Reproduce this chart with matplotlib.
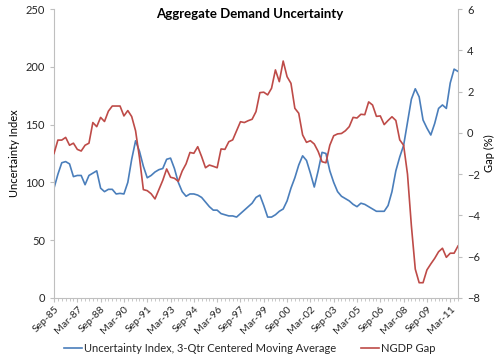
import matplotlib
matplotlib.use("Agg")
import matplotlib.pyplot as plt
from matplotlib.ticker import MultipleLocator, FixedLocator
import numpy as np

# Quarterly categories Sep-85 .. Sep-11 (105 quarters)
tick_labels = ["Sep-85", "Mar-87", "Sep-88", "Mar-90", "Sep-91", "Mar-93", "Sep-94",
               "Mar-96", "Sep-97", "Mar-99", "Sep-00", "Mar-02", "Sep-03", "Mar-05",
               "Sep-06", "Mar-08", "Sep-09", "Mar-11"]

uncertainty = [95, 107, 117, 118, 116, 105, 106, 106, 98, 106,
               108, 110, 95, 92, 94, 94, 90, 90.5, 90, 100,
               120, 136, 127, 114, 104, 106, 109, 111, 112, 120,
               121, 112, 100, 92, 88, 90, 90, 89, 87, 83,
               79, 76, 76, 73, 72, 71, 71, 70, 73, 76,
               79, 82, 87, 89, 80, 70, 70, 72, 75, 77,
               84, 95, 104, 115, 123, 119, 108, 96, 110, 126,
               125, 110, 100, 92, 88, 86, 84, 81, 79, 82,
               81, 79, 77, 75, 75, 75, 80, 92, 110, 122,
               132, 152, 172, 181, 174, 154, 147, 141, 151, 164,
               167, 164, 186, 198, 196]

ngdp_gap = [-1.0, -0.35, -0.35, -0.22, -0.6, -0.5, -0.8, -0.88, -0.6, -0.5,
            0.5, 0.3, 0.75, 0.55, 1.05, 1.3, 1.3, 1.3, 0.82, 1.08,
            0.79, 0.1, -1.2, -2.75, -2.8, -2.95, -3.2, -2.75, -2.3, -1.75,
            -2.15, -2.2, -2.35, -1.85, -1.5, -0.95, -0.99, -0.67, -1.15, -1.69,
            -1.56, -1.62, -1.69, -0.78, -0.8, -0.43, -0.34, 0.1, 0.54, 0.5,
            0.59, 0.66, 1.03, 1.95, 1.97, 1.84, 2.16, 3.05, 2.48, 3.48,
            2.72, 2.4, 1.19, 0.95, -0.1, -0.46, -0.38, -0.54, -0.9, -1.4,
            -1.45, -0.6, -0.14, -0.05, -0.03, 0.1, 0.3, 0.75, 0.72, 0.9,
            0.88, 1.5, 1.35, 0.8, 0.82, 0.4, 0.6, 0.78, 0.6, -0.34,
            -0.6, -2.0, -4.5, -6.6, -7.26, -7.26, -6.64, -6.35, -6.08, -5.76,
            -5.59, -6.03, -5.83, -5.83, -5.48]

BLUE = "#4A7EBB"
RED = "#BE4B48"
GRAY = "#BFBFBF"
TXT = "#262626"

plt.rcParams["font.family"] = ["Lato", "DejaVu Sans"]

fig = plt.figure(figsize=(5.0, 3.55), dpi=100)
ax = fig.add_axes([0.108, 0.1606, 0.808, 0.814])
ax2 = ax.twinx()

x = np.arange(len(uncertainty))
l1, = ax.plot(x, uncertainty, color=BLUE, lw=1.2, label="Uncertainty Index, 3-Qtr Centered Moving Average")
l2, = ax2.plot(x, ngdp_gap, color=RED, lw=1.2, label="NGDP Gap")

ax.set_xlim(0, len(uncertainty) - 1)
ax.set_ylim(0, 250)
ax2.set_ylim(-8, 6)
ax.yaxis.set_major_locator(MultipleLocator(50))
ax2.yaxis.set_major_locator(MultipleLocator(2))

ax.set_xticks(np.arange(0, len(uncertainty), 6)[:len(tick_labels)])
ax.set_xticklabels(tick_labels, rotation=45, ha="right", va="top",
                   rotation_mode="anchor", fontsize=7.5, color=TXT)
ax.xaxis.set_minor_locator(FixedLocator(np.arange(len(uncertainty))))

for a in (ax, ax2):
    a.spines["top"].set_visible(False)
    for s in ("left", "right", "bottom"):
        a.spines[s].set_color(GRAY)
        a.spines[s].set_linewidth(0.8)
ax.spines["right"].set_visible(False)
ax2.spines["left"].set_visible(False)
ax2.spines["bottom"].set_visible(False)

ax.tick_params(axis="y", colors=GRAY, labelcolor=TXT, labelsize=8, length=3, width=0.8)
ax2.tick_params(axis="y", colors=GRAY, labelcolor=TXT, labelsize=8, length=3, width=0.8)
ax.tick_params(axis="x", which="major", colors=GRAY, labelcolor=TXT, length=3, width=0.8, pad=2)
ax.tick_params(axis="x", which="minor", colors=GRAY, length=2, width=0.6)

ax.set_ylabel("Uncertainty Index", fontsize=8, color="black", labelpad=4)
ax2.set_ylabel("Gap (%)", fontsize=8, color="black", rotation=90, labelpad=3)

fig.text(0.5, 0.96, "Aggregate Demand Uncertainty", ha="center", va="center",
         fontsize=9.5, fontweight="bold", color="black")

fig.legend(handles=[l1, l2], loc="center", bbox_to_anchor=(0.5, 0.018), ncol=2,
           frameon=False, fontsize=8, handlelength=1.6, handletextpad=0.2,
           columnspacing=2.2, labelcolor=TXT)

fig.savefig("out.png", dpi=100)
